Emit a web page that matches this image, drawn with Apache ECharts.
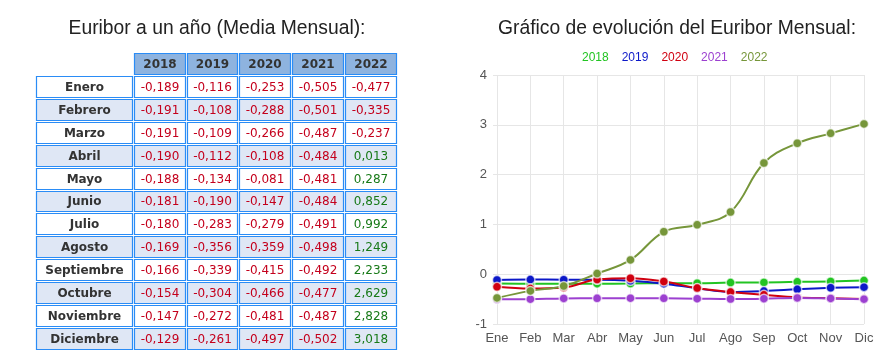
<!DOCTYPE html>
<html><head><meta charset="utf-8">
<script src="https://cdn.jsdelivr.net/npm/echarts@6/dist/echarts.min.js"></script>
<style>html,body{margin:0;padding:0;background:#fff;}#c{width:893px;height:363px;}</style>
</head><body><div id="c"></div>
<script>
const years = ['2018', '2019', '2020', '2021', '2022'];
const months = ['Enero','Febrero','Marzo','Abril','Mayo','Junio','Julio','Agosto','Septiembre','Octubre','Noviembre','Diciembre'];
const monthsShort = ['Ene','Feb','Mar','Abr','May','Jun','Jul','Ago','Sep','Oct','Nov','Dic'];
const v2018 = [-0.189,-0.191,-0.191,-0.190,-0.188,-0.181,-0.180,-0.169,-0.166,-0.154,-0.147,-0.129];
const v2019 = [-0.116,-0.108,-0.109,-0.112,-0.134,-0.190,-0.283,-0.356,-0.339,-0.304,-0.272,-0.261];
const v2020 = [-0.253,-0.288,-0.266,-0.108,-0.081,-0.147,-0.279,-0.359,-0.415,-0.466,-0.481,-0.497];
const v2021 = [-0.505,-0.501,-0.487,-0.484,-0.481,-0.484,-0.491,-0.498,-0.492,-0.477,-0.487,-0.502];
const v2022 = [-0.477,-0.335,-0.237,0.013,0.287,0.852,0.992,1.249,2.233,2.629,2.828,3.018];
const yTicks = [-1, 0, 1, 2, 3, 4];

const seriesVals = [v2018, v2019, v2020, v2021, v2022];
const colors = ['#22c422', '#0c18c8', '#d00010', '#9c40d0', '#76963a'];
const SANS = '"Liberation Sans", Arial, Helvetica, sans-serif';

const MONTH_W = 1.85;
const rowsCat = [''].concat(months);
const tableData = [];
for (let r = 0; r < rowsCat.length; r++) {
  for (let c = 0; c < 6; c++) {
    if (r === 0 && c === 0) continue;
    tableData.push([c, r]);
  }
}
function cellText(c, r) {
  if (r === 0) return years[c - 1];
  if (c === 0) return months[r - 1];
  return seriesVals[c - 1][r - 1].toFixed(3).replace('.', ',');
}

const chart = echarts.init(document.getElementById('c'), null, {renderer: 'canvas'});
const lineSeries = years.map((y, i) => ({
  name: y, type: 'line', xAxisIndex: 1, yAxisIndex: 1,
  data: seriesVals[i], smooth: 0.4,
  symbol: 'circle', symbolSize: 9,
  lineStyle: {color: colors[i], width: 2},
  itemStyle: {color: colors[i], borderColor: 'rgba(255,255,255,0.65)', borderWidth: 1.5},
  emphasis: {disabled: true}
}));

chart.setOption({
  animation: false,
  title: [
    {text: 'Euribor a un año (Media Mensual):', left: 212, top: 14, textAlign: 'center',
     textStyle: {fontFamily: SANS, fontSize: 19.3, fontWeight: 'normal', color: '#222'}},
    {text: 'Gráfico de evolución del Euribor Mensual:', left: 672, top: 14, textAlign: 'center',
     textStyle: {fontFamily: SANS, fontSize: 19.3, fontWeight: 'normal', color: '#222'}}
  ],
  legend: {
    top: 47, left: 572, itemWidth: 0, itemHeight: 0, itemGap: 8, icon: 'none',
    selectedMode: false,
    data: years.map((y, i) => ({name: y, icon: 'none', textStyle: {color: colors[i]}})),
    textStyle: {fontFamily: SANS, fontSize: 12, padding: 0}
  },
  grid: [
    {left: 35, right: 496, top: 52, bottom: 13},
    {left: 497, right: 29, top: 75, bottom: 39}
  ],
  xAxis: [
    {gridIndex: 0, type: 'value', min: 0, max: MONTH_W + years.length, show: false},
    {gridIndex: 1, type: 'category', data: monthsShort, boundaryGap: false,
     axisLine: {show: false},
     axisTick: {show: true, length: 4, lineStyle: {color: '#e6e6e6'}},
     splitLine: {show: true, lineStyle: {color: '#e6e6e6'}},
     axisLabel: {color: '#555', fontFamily: SANS, fontSize: 13, margin: 8, interval: 0}}
  ],
  yAxis: [
    {gridIndex: 0, type: 'category', data: rowsCat, inverse: true, show: false},
    {gridIndex: 1, type: 'value', min: yTicks[0], max: yTicks[yTicks.length - 1], interval: 1,
     axisLine: {show: false},
     axisTick: {show: true, length: 4, lineStyle: {color: '#e6e6e6'}},
     splitLine: {show: true, lineStyle: {color: '#e6e6e6'}},
     axisLabel: {color: '#555', fontFamily: SANS, fontSize: 13, margin: 10}}
  ],
  series: [{
    type: 'custom', xAxisIndex: 0, yAxisIndex: 0, data: tableData, silent: true,
    renderItem: function (params, api) {
      const c = api.value(0), r = api.value(1);
      const x0 = c === 0 ? 0 : MONTH_W + (c - 1);
      const x1 = c === 0 ? MONTH_W : x0 + 1;
      const p0 = api.coord([x0, r]);
      const p1 = api.coord([x1, r]);
      const h = api.size([0, 1])[1];
      const left = Math.round(p0[0]) + 1.5, right = Math.round(p1[0]) - 0.5;
      const top = Math.round(p0[1] - h / 2) + 1.5, bot = Math.round(p0[1] + h / 2) - 0.5;
      let fill = (r % 2 === 0) ? '#dfe7f5' : '#ffffff';
      if (r === 0) fill = '#8eb3df';
      const txt = cellText(c, r);
      let tcol = '#333';
      let weight = 'bold';
      if (r > 0 && c > 0) {
        weight = 'normal';
        tcol = seriesVals[c - 1][r - 1] < 0 ? '#c4001c' : '#187a18';
      }
      return {
        type: 'group',
        children: [
          {type: 'rect', shape: {x: left, y: top, width: right - left, height: bot - top},
           style: {fill: fill, stroke: '#2a8cf6', lineWidth: 1.2}},
          {type: 'text', style: {x: (left + right) / 2, y: (top + bot) / 2 + 0.5, text: txt,
            textAlign: 'center', textVerticalAlign: 'middle', fill: tcol,
            font: weight + ' 12px "DejaVu Sans", Verdana, sans-serif'}}
        ]
      };
    }
  }].concat(lineSeries)
});
</script>
</body></html>
